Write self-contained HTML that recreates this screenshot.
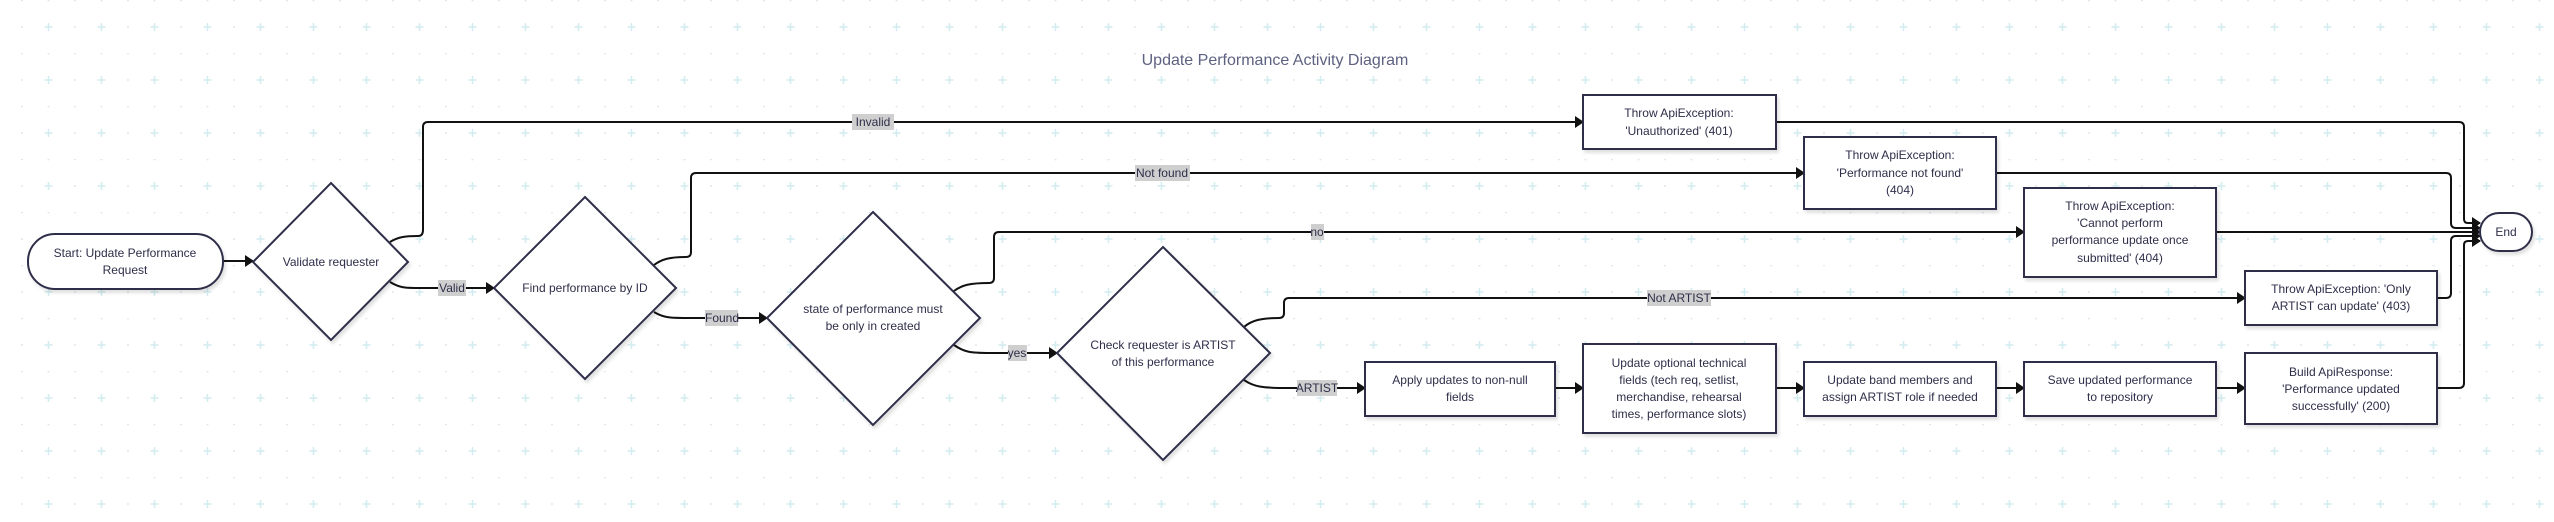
<!DOCTYPE html>
<html><head><meta charset="utf-8"><style>
html,body{margin:0;padding:0;background:#fff;}
svg{display:block}
text{font-family:"Liberation Sans",sans-serif;font-size:12px;fill:#2e2e4a;text-anchor:middle}
.lbl{fill:#2e2e4a}
</style></head><body>
<svg width="2554" height="522" viewBox="0 0 2554 522" xmlns="http://www.w3.org/2000/svg">
<defs>
<pattern id="g" x="0" y="0" width="53" height="53" patternUnits="userSpaceOnUse">
<circle cx="22" cy="0.5" r="1" fill="#dfe6ea"/>
<circle cx="48.5" cy="0.5" r="1" fill="#dfe6ea"/>
<circle cx="22" cy="27" r="1" fill="#dfe6ea"/>
<path d="M48.5,23 V31 M44.5,27 H52.5" stroke="#d3ecf0" stroke-width="1.6"/>
</pattern>
<marker id="a" markerUnits="userSpaceOnUse" markerWidth="9" markerHeight="12" refX="8" refY="6" orient="auto">
<path d="M0,0 L9,6 L0,12 z" fill="#111"/>
</marker>
<filter id="s" x="-10%" y="-10%" width="130%" height="130%"><feDropShadow dx="2" dy="3" stdDeviation="1.5" flood-color="#000" flood-opacity="0.12"/></filter>
</defs>
<rect width="2554" height="522" fill="url(#g)"/>
<text x="1275" y="65" style="font-size:16px;fill:#5d6280">Update Performance Activity Diagram</text>

<g fill="none" stroke="#111" stroke-width="2">
<path d="M223,261 L253,261" marker-end="url(#a)"/>
<path d="M390,242 C398,237 405,236 418,236 Q423,236 423,230 L423,127 Q423,122 428,122 L1583,122" marker-end="url(#a)"/>
<path d="M390,282 C400,288 405,288 420,288 L494,288" marker-end="url(#a)"/>
<path d="M654,265 C662,259 670,257 686,257 Q691,257 691,252 L691,178 Q691,173 696,173 L1804,173" marker-end="url(#a)"/>
<path d="M654,312 C664,318 670,318 690,318 L767,318" marker-end="url(#a)"/>
<path d="M954,291 C962,285 970,283 989,283 Q994,283 994,278 L994,237 Q994,232 999,232 L2024,232" marker-end="url(#a)"/>
<path d="M954,345 C964,352 970,353 990,353 L1057,353" marker-end="url(#a)"/>
<path d="M1244,327 C1252,320 1262,318 1279,318 Q1284,318 1284,313 L1284,303 Q1284,298 1289,298 L2245,298" marker-end="url(#a)"/>
<path d="M1244,380 C1254,387 1262,388 1290,388 L1365,388" marker-end="url(#a)"/>
<path d="M1555,388 L1583,388" marker-end="url(#a)"/>
<path d="M1776,388 L1804,388" marker-end="url(#a)"/>
<path d="M1996,388 L2024,388" marker-end="url(#a)"/>
<path d="M2216,388 L2245,388" marker-end="url(#a)"/>
<path d="M1776,122 L2459,122 Q2464,122 2464,127 L2464,219 Q2464,223 2468,223 L2480,223" marker-end="url(#a)"/>
<path d="M1996,173 L2446,173 Q2451,173 2451,178 L2451,223 Q2451,228 2456,228 L2480,228" marker-end="url(#a)"/>
<path d="M2216,232 L2480,232" marker-end="url(#a)"/>
<path d="M2437,298 L2446,298 Q2451,298 2451,293 L2451,241 Q2451,236 2456,236 L2480,236" marker-end="url(#a)"/>
<path d="M2437,388 L2459,388 Q2464,388 2464,383 L2464,245 Q2464,241 2468,241 L2480,241" marker-end="url(#a)"/>
</g>

<g fill="#fff" stroke="#2f2f48" stroke-width="2" filter="url(#s)">
<rect x="28" y="234" width="195" height="55" rx="27"/>
<polygon points="331,183 408,262 331,340 253,262"/>
<polygon points="585,197 676,288 585,379 494,288"/>
<polygon points="873,212 980,318 873,425 767,318"/>
<polygon points="1163,247 1270,353 1163,460 1057,353"/>
<rect x="1365" y="362" width="190" height="54"/>
<rect x="1583" y="95" width="193" height="54"/>
<rect x="1804" y="137" width="192" height="72"/>
<rect x="2024" y="188" width="192" height="89"/>
<rect x="2245" y="271" width="192" height="54"/>
<rect x="1583" y="344" width="193" height="89"/>
<rect x="1804" y="362" width="192" height="54"/>
<rect x="2024" y="362" width="192" height="54"/>
<rect x="2245" y="353" width="192" height="71"/>
<rect x="2480" y="213" width="52" height="38" rx="19"/>
</g>

<g fill="#cfcfcf">
<rect x="852" y="114" width="42" height="16"/>
<rect x="438" y="280" width="28" height="16"/>
<rect x="1135" y="165" width="55" height="16"/>
<rect x="705" y="310" width="33" height="16"/>
<rect x="1311" y="224" width="13" height="16"/>
<rect x="1008" y="345" width="19" height="16"/>
<rect x="1647" y="290" width="64" height="16"/>
<rect x="1297" y="380" width="40" height="16"/>
</g>
<text x="873" y="126">Invalid</text>
<text x="452" y="292">Valid</text>
<text x="1162" y="177">Not found</text>
<text x="722" y="322">Found</text>
<text x="1317" y="236">no</text>
<text x="1017" y="357">yes</text>
<text x="1679" y="302">Not ARTIST</text>
<text x="1317" y="392">ARTIST</text>

<text x="125" y="257">Start: Update Performance</text>
<text x="125" y="274">Request</text>
<text x="331" y="266">Validate requester</text>
<text x="585" y="292">Find performance by ID</text>
<text x="873" y="313">state of performance must</text>
<text x="873" y="330">be only in created</text>
<text x="1163" y="349">Check requester is ARTIST</text>
<text x="1163" y="366">of this performance</text>
<text x="1460" y="384">Apply updates to non-null</text>
<text x="1460" y="401">fields</text>
<text x="1679" y="117">Throw ApiException:</text>
<text x="1679" y="135">'Unauthorized' (401)</text>
<text x="1900" y="159">Throw ApiException:</text>
<text x="1900" y="177">'Performance not found'</text>
<text x="1900" y="194">(404)</text>
<text x="2120" y="210">Throw ApiException:</text>
<text x="2120" y="227">'Cannot perform</text>
<text x="2120" y="244">performance update once</text>
<text x="2120" y="262">submitted' (404)</text>
<text x="2341" y="293">Throw ApiException: 'Only</text>
<text x="2341" y="310">ARTIST can update' (403)</text>
<text x="1679" y="367">Update optional technical</text>
<text x="1679" y="384">fields (tech req, setlist,</text>
<text x="1679" y="401">merchandise, rehearsal</text>
<text x="1679" y="418">times, performance slots)</text>
<text x="1900" y="384">Update band members and</text>
<text x="1900" y="401">assign ARTIST role if needed</text>
<text x="2120" y="384">Save updated performance</text>
<text x="2120" y="401">to repository</text>
<text x="2341" y="376">Build ApiResponse:</text>
<text x="2341" y="393">'Performance updated</text>
<text x="2341" y="410">successfully' (200)</text>
<text x="2506" y="236">End</text>
</svg>
</body></html>
